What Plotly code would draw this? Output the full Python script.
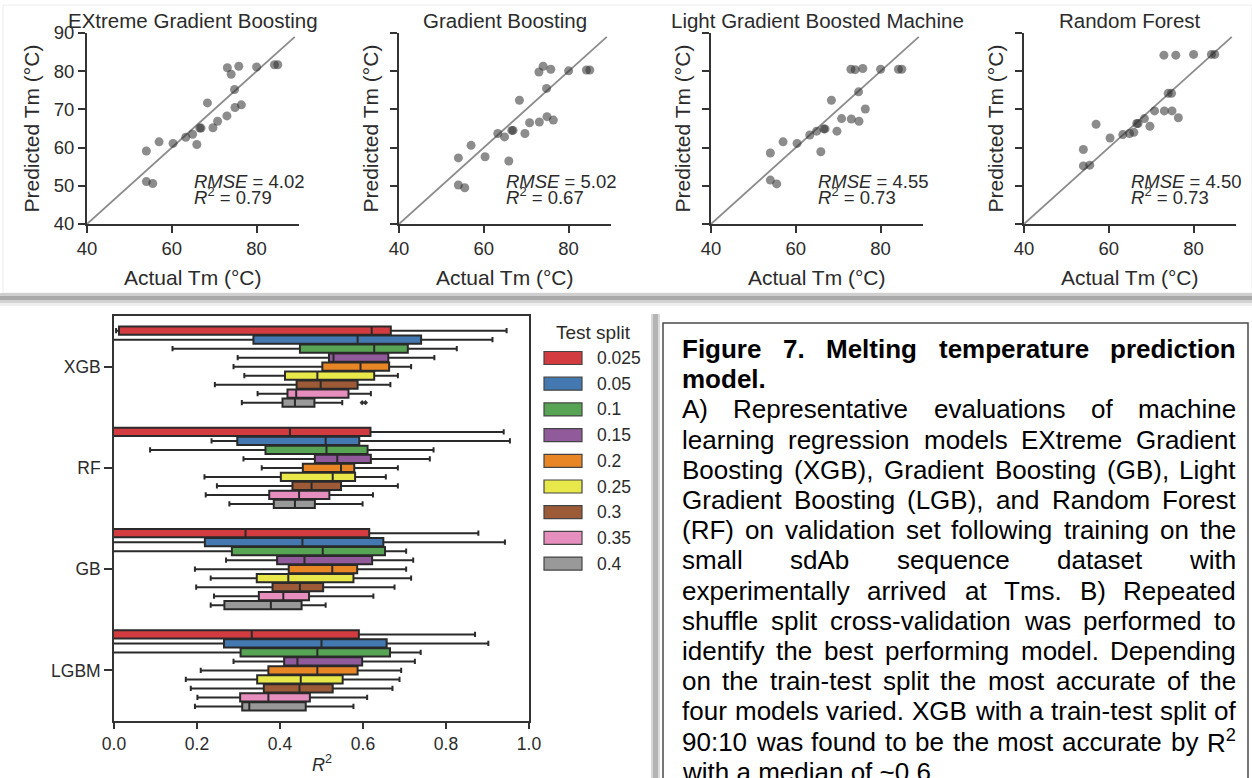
import plotly.graph_objects as go

# ======================= DATA =======================
# Panel A: validation-set predictions (°C)
actual_tm = [54.0, 54.0, 55.5, 57.0, 60.3, 63.3, 64.9, 65.9, 66.6, 66.9, 68.4, 69.7, 70.8,
             73.0, 73.1, 74.0, 74.8, 74.9, 75.8, 76.4, 80.0, 84.2, 85.0]
predicted_xgb = [59.1, 51.1, 50.6, 61.5, 61.1, 62.7, 63.5, 60.8, 65.1, 65.1, 71.7, 65.2, 66.9,
                 68.3, 80.9, 79.2, 75.2, 70.5, 81.3, 71.2, 81.1, 81.7, 81.7]
predicted_gb = [57.3, 50.2, 49.5, 60.6, 57.6, 63.7, 62.8, 56.5, 64.5, 64.5, 72.4, 63.7, 66.5,
                79.8, 66.7, 81.3, 75.5, 68.1, 80.5, 67.2, 80.1, 80.3, 80.3]
predicted_lgbm = [58.6, 51.5, 50.5, 61.5, 61.1, 63.3, 64.3, 58.9, 64.9, 64.9, 72.4, 64.3, 67.6,
                  80.5, 67.5, 80.4, 74.6, 66.9, 80.7, 70.1, 80.5, 80.5, 80.5]
predicted_rf = [59.5, 55.2, 55.4, 66.1, 62.5, 63.4, 63.7, 64.0, 66.3, 66.3, 67.6, 65.6, 69.6,
                84.2, 69.6, 74.2, 74.2, 69.6, 84.2, 67.8, 84.4, 84.4, 84.4]
panel_titles = ["EXtreme Gradient Boosting", "Gradient Boosting",
                "Light Gradient Boosted Machine", "Random Forest"]
rmse_values = ["4.02", "5.02", "4.55", "4.50"]
r2_values = ["0.79", "0.67", "0.73", "0.73"]
identity_line = [40, 89]
scatter_x_ticks = [40, 60, 80]
scatter_y_ticks = [40, 50, 60, 70, 80, 90]

# Panel B: repeated shuffle-split R^2 box statistics (per test split; order XGB, RF, GB, LGBM)
box_models = ["XGB", "RF", "GB", "LGBM"]
test_splits = ["0.025", "0.05", "0.1", "0.15", "0.2", "0.25", "0.3", "0.35", "0.4"]
box_lowerfence = [
    [0.005, -0.5, -0.6, -0.6],
    [-0.4, 0.235, -0.4, -0.3],
    [0.141, 0.087, -0.2, -0.2],
    [0.298, 0.312, 0.270, 0.288],
    [0.288, 0.356, 0.195, 0.209],
    [0.314, 0.218, 0.233, 0.173],
    [0.243, 0.248, 0.198, 0.185],
    [0.346, 0.221, 0.241, 0.201],
    [0.308, 0.278, 0.233, 0.195],
]
box_q1 = [
    [0.012, -0.05, -0.1, -0.1],
    [0.336, 0.297, 0.219, 0.265],
    [0.448, 0.365, 0.284, 0.305],
    [0.518, 0.484, 0.393, 0.410],
    [0.502, 0.455, 0.421, 0.372],
    [0.412, 0.402, 0.344, 0.345],
    [0.440, 0.430, 0.382, 0.361],
    [0.418, 0.374, 0.349, 0.304],
    [0.406, 0.385, 0.266, 0.309],
]
box_median = [
    [0.621, 0.424, 0.317, 0.332],
    [0.587, 0.510, 0.454, 0.500],
    [0.627, 0.512, 0.503, 0.490],
    [0.529, 0.538, 0.459, 0.442],
    [0.594, 0.547, 0.526, 0.490],
    [0.490, 0.527, 0.420, 0.450],
    [0.498, 0.476, 0.448, 0.447],
    [0.439, 0.446, 0.408, 0.372],
    [0.436, 0.436, 0.378, 0.326],
]
box_q3 = [
    [0.667, 0.618, 0.615, 0.590],
    [0.740, 0.591, 0.649, 0.657],
    [0.708, 0.611, 0.653, 0.665],
    [0.661, 0.619, 0.622, 0.598],
    [0.663, 0.579, 0.586, 0.587],
    [0.627, 0.581, 0.577, 0.551],
    [0.587, 0.547, 0.504, 0.527],
    [0.565, 0.519, 0.470, 0.472],
    [0.483, 0.484, 0.452, 0.462],
]
box_upperfence = [
    [0.946, 0.939, 0.878, 0.870],
    [0.912, 0.954, 0.942, 0.902],
    [0.826, 0.770, 0.704, 0.739],
    [0.772, 0.761, 0.721, 0.725],
    [0.716, 0.684, 0.704, 0.692],
    [0.684, 0.655, 0.716, 0.688],
    [0.666, 0.684, 0.676, 0.671],
    [0.619, 0.624, 0.625, 0.610],
    [0.550, 0.599, 0.510, 0.577],
]
flier_values_xgb_04 = [0.598, 0.606]
box_x_ticks = [0.0, 0.2, 0.4, 0.6, 0.8, 1.0]

caption_title_lines = ["Figure 7. Melting temperature prediction", "model."]
caption_body_lines = [
    "A) Representative evaluations of machine",
    "learning regression models EXtreme Gradient",
    "Boosting (XGB), Gradient Boosting (GB), Light",
    "Gradient Boosting (LGB), and Random Forest",
    "(RF) on validation set following training on the",
    "small sdAb sequence dataset with",
    "experimentally arrived at Tms. B) Repeated",
    "shuffle split cross-validation was performed to",
    "identify the best performing model. Depending",
    "on the train-test split the most accurate of the",
    "four models varied. XGB with a train-test split of",
    "90:10 was found to be the most accurate by R<sup>2</sup>",
    "with a median of ~0.6",
]

# ======================= STYLE / GEOMETRY =======================
W, H = 1252, 778
FONT = "Liberation Sans, Arial, sans-serif"
TXT = "#2b2b2b"
AX = "#333333"
split_colors = ["#d23b40", "#4379b0", "#57a455", "#915a9b", "#e88625",
                "#e8e84a", "#9c5b36", "#e68ebd", "#999999"]


def fx(p):
    return p / W


def fy(p):
    return 1 - p / H


fig = go.Figure()
annotations = []
shapes = []
layout_axes = {}

# ---------------- Panel A: four scatter plots ----------------
panel_left = [87, 399, 711, 1024]
panel_w = 212
ax_top, ax_bot = 33, 224
predictions = [predicted_xgb, predicted_gb, predicted_lgbm, predicted_rf]
ytitle_offset = [56, 29, 29, 29]

for k in range(4):
    xa = "x" if k == 0 else f"x{k + 1}"
    ya = "y" if k == 0 else f"y{k + 1}"
    fig.add_trace(go.Scatter(x=identity_line, y=identity_line, mode="lines",
                             line=dict(color="#8c8c8c", width=1.8),
                             xaxis=xa, yaxis=ya, showlegend=False, hoverinfo="skip"))
    fig.add_trace(go.Scatter(x=actual_tm, y=predictions[k], mode="markers",
                             marker=dict(size=9, color="rgba(45,45,45,0.55)", line=dict(width=0)),
                             xaxis=xa, yaxis=ya, showlegend=False))
    common = dict(showline=True, linecolor=AX, linewidth=1.8, ticks="outside", ticklen=7,
                  tickwidth=1.8, tickcolor=AX, showgrid=False, zeroline=False, automargin=False,
                  tickfont=dict(family=FONT, size=18.5, color=TXT), fixedrange=True)
    layout_axes["xaxis" if k == 0 else f"xaxis{k + 1}"] = dict(
        common, domain=[fx(panel_left[k]), fx(panel_left[k] + panel_w)], range=[40, 90],
        tickvals=scatter_x_ticks, anchor=ya)
    layout_axes["yaxis" if k == 0 else f"yaxis{k + 1}"] = dict(
        common, domain=[fy(ax_bot), fy(ax_top)], range=[40, 90],
        tickvals=scatter_y_ticks, showticklabels=(k == 0), anchor=xa)
    cx = panel_left[k] + panel_w / 2
    annotations.append(dict(text=panel_titles[k], x=fx(cx), y=fy(21), xref="paper", yref="paper",
                            showarrow=False, xanchor="center", yanchor="middle",
                            font=dict(family=FONT, size=20.5, color=TXT)))
    annotations.append(dict(text="Actual Tm (°C)", x=fx(cx), y=fy(277), xref="paper", yref="paper",
                            showarrow=False, xanchor="center", yanchor="middle",
                            font=dict(family=FONT, size=21, color=TXT)))
    annotations.append(dict(text="Predicted Tm (°C)", x=fx(panel_left[k] - ytitle_offset[k]),
                            y=fy((ax_top + ax_bot) / 2), xref="paper", yref="paper",
                            showarrow=False, xanchor="center", yanchor="middle", textangle=-90,
                            font=dict(family=FONT, size=21, color=TXT)))
    annotations.append(dict(text=f"<i>RMSE</i> = {rmse_values[k]}", x=65, y=51.0, xref=xa, yref=ya,
                            showarrow=False, xanchor="left", yanchor="middle", borderpad=0,
                            font=dict(family=FONT, size=18.5, color=TXT)))
    annotations.append(dict(text=f"<i>R</i><sup>2</sup> = {r2_values[k]}", x=65, y=47.3, xref=xa, yref=ya,
                            showarrow=False, xanchor="left", yanchor="middle", borderpad=0,
                            font=dict(family=FONT, size=18.5, color=TXT)))

# ---------------- Panel B: grouped horizontal box plot ----------------
bx_left, bx_right, by_top, by_bot = 114, 529, 316, 721
n_splits = len(test_splits)
step = 0.8 / n_splits
for j in range(n_splits):
    positions = [i + (j - (n_splits - 1) / 2) * step for i in range(len(box_models))]
    fig.add_trace(go.Box(
        y=positions, q1=box_q1[j], median=box_median[j], q3=box_q3[j],
        lowerfence=box_lowerfence[j], upperfence=box_upperfence[j],
        orientation="h", width=step * 0.94, whiskerwidth=0.6, boxpoints=False,
        fillcolor=split_colors[j], line=dict(color="#2a2a2a", width=2),
        name=test_splits[j], xaxis="x5", yaxis="y5", showlegend=False))
flier_pos = 0 + ((n_splits - 1) - (n_splits - 1) / 2) * step
fig.add_trace(go.Scatter(x=flier_values_xgb_04, y=[flier_pos] * len(flier_values_xgb_04),
                         mode="markers", marker=dict(symbol="diamond", size=4, color=AX),
                         xaxis="x5", yaxis="y5", showlegend=False))

layout_axes["xaxis5"] = dict(domain=[fx(bx_left), fx(bx_right)], range=[0, 1], anchor="y5",
                             tickvals=box_x_ticks, tickformat=".1f", showline=True, mirror=True,
                             linecolor=AX, linewidth=1.6, ticks="outside", ticklen=6, tickwidth=1.5,
                             tickcolor=AX, showgrid=False, zeroline=False, fixedrange=True,
                             automargin=False,
                             tickfont=dict(family=FONT, size=17.5, color=TXT))
layout_axes["yaxis5"] = dict(domain=[fy(by_bot), fy(by_top)], range=[len(box_models) - 0.5, -0.5],
                             anchor="x5", tickvals=list(range(len(box_models))), ticktext=box_models,
                             showline=True, mirror=True, linecolor=AX, linewidth=1.6, ticks="outside",
                             ticklen=8, tickwidth=1.5, tickcolor=AX, showgrid=False, zeroline=False,
                             fixedrange=True, automargin=False,
                             tickfont=dict(family=FONT, size=17.5, color=TXT))
annotations.append(dict(text="<i>R</i><sup>2</sup>", x=fx((bx_left + bx_right) / 2), y=fy(763),
                        xref="paper", yref="paper", showarrow=False, xanchor="center",
                        yanchor="middle", font=dict(family=FONT, size=18, color=TXT)))

# manual legend
annotations.append(dict(text="Test split", x=fx(593), y=fy(332), xref="paper", yref="paper",
                        showarrow=False, xanchor="center", yanchor="middle",
                        font=dict(family=FONT, size=19, color=TXT)))
for j in range(n_splits):
    cy = 358 + j * 25.7
    shapes.append(dict(type="rect", xref="paper", yref="paper", x0=fx(544), x1=fx(582),
                       y0=fy(cy + 6.5), y1=fy(cy - 6.5), fillcolor=split_colors[j],
                       line=dict(color="#444444", width=1.2)))
    annotations.append(dict(text=test_splits[j], x=fx(596), y=fy(cy), xref="paper", yref="paper",
                            showarrow=False, xanchor="left", yanchor="middle", borderpad=0,
                            font=dict(family=FONT, size=17.5, color=TXT)))

# ---------------- decorative frames / shadows ----------------
shapes += [
    dict(type="rect", xref="paper", yref="paper", x0=fx(3), x1=fx(1252), y0=fy(293), y1=fy(5),
         fillcolor="rgba(0,0,0,0)", line=dict(color="#ececec", width=1)),
    dict(type="rect", xref="paper", yref="paper", x0=0, x1=1, y0=fy(296), y1=fy(293),
         fillcolor="#cfcfcf", line=dict(width=0)),
    dict(type="rect", xref="paper", yref="paper", x0=0, x1=1, y0=fy(300), y1=fy(296),
         fillcolor="#a9a9a9", line=dict(width=0)),
    dict(type="rect", xref="paper", yref="paper", x0=0, x1=1, y0=fy(303), y1=fy(300),
         fillcolor="#d2d2d2", line=dict(width=0)),
    dict(type="rect", xref="paper", yref="paper", x0=0, x1=1, y0=fy(306), y1=fy(303),
         fillcolor="#eeeeee", line=dict(width=0)),
    dict(type="rect", xref="paper", yref="paper", x0=fx(651), x1=fx(653), y0=0, y1=fy(314),
         fillcolor="#d8d8d8", line=dict(width=0)),
    dict(type="rect", xref="paper", yref="paper", x0=fx(653), x1=fx(658), y0=0, y1=fy(314),
         fillcolor="#b4b4b4", line=dict(width=0)),
    dict(type="rect", xref="paper", yref="paper", x0=fx(658), x1=fx(660), y0=0, y1=fy(314),
         fillcolor="#dcdcdc", line=dict(width=0)),
    dict(type="rect", xref="paper", yref="paper", x0=fx(663), x1=fx(1248), y0=fy(790), y1=fy(323),
         fillcolor="rgba(0,0,0,0)", line=dict(color="#4a4a4a", width=1.5)),
]

# ---------------- caption (justified word by word) ----------------
REG = {' ': 278, '(': 333, ')': 333, ',': 278, '-': 333, '.': 278, ':': 278, '~': 584,
       'A': 667, 'B': 667, 'C': 722, 'D': 722, 'E': 667, 'F': 611, 'G': 778, 'H': 722, 'I': 278,
       'L': 556, 'M': 833, 'R': 722, 'S': 667, 'T': 611, 'X': 667,
       'a': 556, 'b': 556, 'c': 500, 'd': 556, 'e': 556, 'f': 278, 'g': 556, 'h': 556, 'i': 222,
       'j': 222, 'k': 500, 'l': 222, 'm': 833, 'n': 556, 'o': 556, 'p': 556, 'q': 556, 'r': 333,
       's': 500, 't': 278, 'u': 556, 'v': 500, 'w': 722, 'x': 500, 'y': 500, 'z': 500}
BOLD = {' ': 278, '.': 278, 'F': 611, 'M': 833, 'a': 556, 'b': 611, 'c': 556, 'd': 611, 'e': 556,
        'f': 333, 'g': 611, 'h': 611, 'i': 278, 'l': 278, 'm': 889, 'n': 611, 'o': 611, 'p': 611,
        'r': 389, 't': 333, 'u': 611}
CAP_SIZE = 26
CAP_L, CAP_R = 682, 1236
CAP_Y0, CAP_DY = 349, 30.2


def word_width(word, bold):
    table = BOLD if bold else REG
    sup = 1.0
    w = 0.0
    plain = word.replace("<sup>", "\x01").replace("</sup>", "\x02")
    for ch in plain:
        if ch == "\x01":
            sup = 0.7
            continue
        if ch == "\x02":
            sup = 1.0
            continue
        w += table.get(ch, 556) * sup
    return w / 1000 * CAP_SIZE


def add_caption_line(text, row, bold, justify):
    y = fy(CAP_Y0 + row * CAP_DY)
    fnt = dict(family=FONT, size=CAP_SIZE, color="#000000")
    if not justify:
        annotations.append(dict(text=f"<b>{text}</b>" if bold else text, x=fx(CAP_L), y=y,
                                xref="paper", yref="paper", showarrow=False, xanchor="left",
                                yanchor="middle", borderpad=0, borderwidth=0, font=fnt))
        return
    words = text.split(" ")
    widths = [word_width(w, bold) for w in words]
    gap = (CAP_R - CAP_L - sum(widths)) / (len(words) - 1)
    x = CAP_L
    for i, w in enumerate(words):
        t = f"<b>{w}</b>" if bold else w
        if i == len(words) - 1:
            xa, xanchor = CAP_R, "right"
        else:
            xa, xanchor = x, "left"
        annotations.append(dict(text=t, x=fx(xa), y=y, xref="paper", yref="paper",
                                showarrow=False, xanchor=xanchor, yanchor="middle",
                                borderpad=0, borderwidth=0, font=fnt))
        x += widths[i] + gap


row = 0
for i, line in enumerate(caption_title_lines):
    add_caption_line(line, row, True, i < len(caption_title_lines) - 1)
    row += 1
for i, line in enumerate(caption_body_lines):
    add_caption_line(line, row, False, i < len(caption_body_lines) - 1)
    row += 1

fig.update_layout(
    width=W, height=H, autosize=False,
    margin=dict(l=0, r=0, t=0, b=0, pad=0, autoexpand=False),
    paper_bgcolor="white", plot_bgcolor="white",
    font=dict(family=FONT, color=TXT),
    annotations=annotations, shapes=shapes,
    showlegend=False,
    **layout_axes,
)

fig.write_html("out.html", config={"displayModeBar": False},
               post_script="document.body.style.margin='0px';document.body.style.overflow='hidden';")
